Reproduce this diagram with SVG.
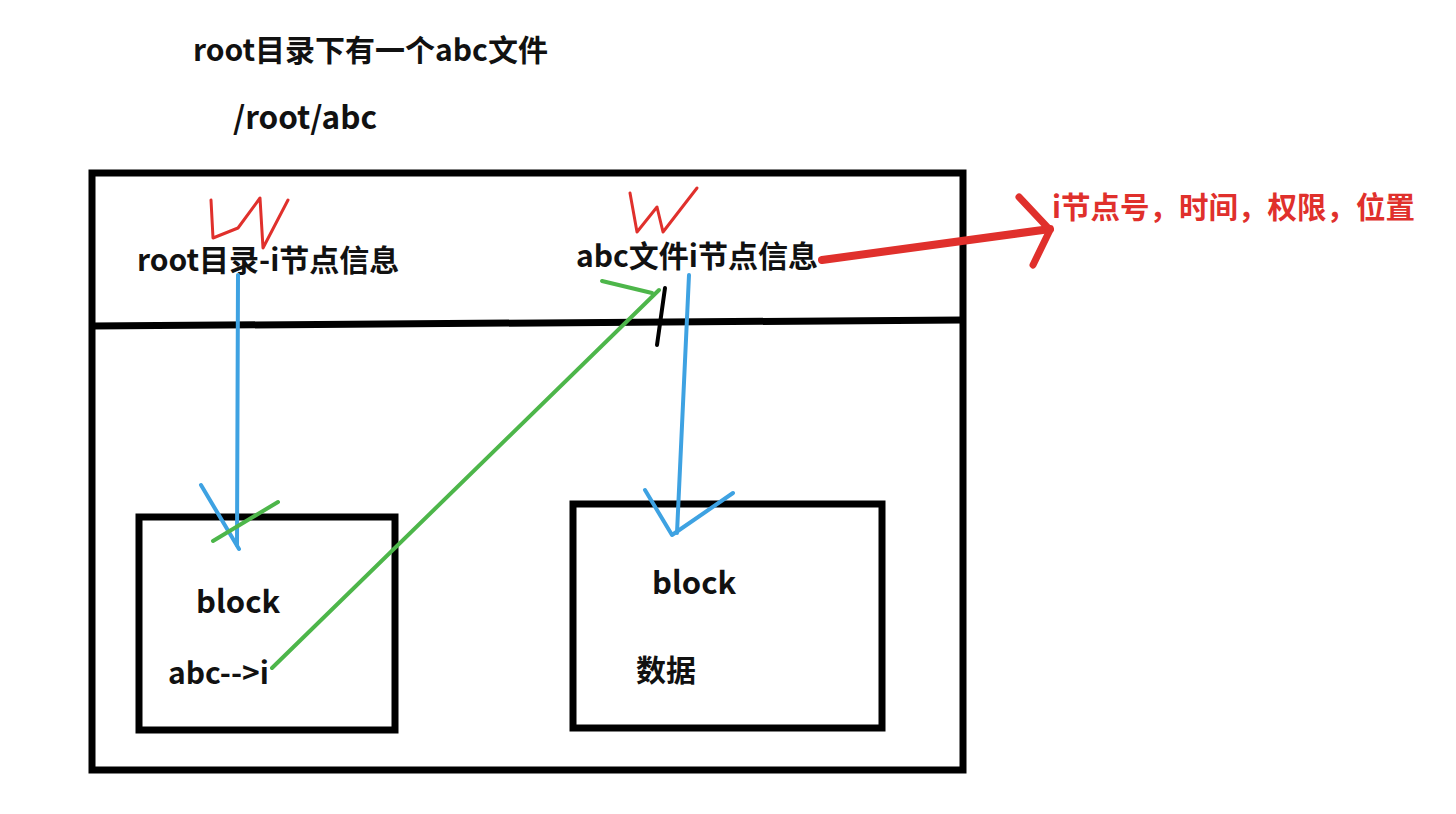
<svg xmlns="http://www.w3.org/2000/svg" width="1456" height="814" viewBox="0 0 1456 814">
<style>
.t{font-family:"Noto Sans CJK SC","Liberation Sans",sans-serif;font-weight:bold;font-size:30px;fill:#111}
.r{fill:#e0302c;font-size:29.5px}
.box{fill:none;stroke:#000;stroke-width:7}
.blue{fill:none;stroke:#3ea2e2;stroke-width:4;stroke-linecap:round;stroke-linejoin:round}
.green{fill:none;stroke:#4db64a;stroke-width:4;stroke-linecap:round}
.red{fill:none;stroke:#e0302c;stroke-width:3;stroke-linecap:round;stroke-linejoin:round}
</style>
<rect width="1456" height="814" fill="#fff"/>
<g id="title">
<text class="t" x="193" y="61">root目录下有一个abc文件</text>
<text class="t" x="233" y="129" style="font-size:31.5px">/root/abc</text>
</g>
<g id="disk">
<rect class="box" x="92" y="173" width="871" height="597"/>
<path d="M92 326 L963 320" stroke="#000" stroke-width="7" fill="none"/>
</g>
<g id="root-inode">
<path class="red" d="M211 200 L213 238 L238 228 L260 198 L263 248 L288 200"/>
<text class="t" x="137" y="271">root目录-i节点信息</text>
</g>
<g id="abc-inode">
<path class="red" d="M630 193 L637 232 L657 207 L663 232 L697 188"/>
<text class="t" x="576" y="267">abc文件i节点信息</text>
</g>
<g id="inode-info">
<text class="t r" x="1052" y="218">i节点号，时间，权限，位置</text>
</g>
<g id="block1">
<rect class="box" x="139" y="517" width="256" height="213"/>
<text class="t" x="196" y="613" style="font-size:31px">block</text>
<text class="t" x="168" y="684">abc--&gt;i</text>
</g>
<g id="block2">
<rect class="box" x="573" y="504" width="309" height="224"/>
<text class="t" x="652" y="594" style="font-size:31px">block</text>
<text class="t" x="636" y="681">数据</text>
</g>
<g id="connectors">
<path class="blue" d="M238 275 L237 545"/>
<path class="blue" d="M201 485 L239 549"/>
<path class="blue" d="M689 275 L677 533"/>
<path class="blue" d="M645 490 L672 535 L733 493"/>
<path class="green" d="M213 541 L278 502"/>
<path class="green" d="M272 668 L659 290"/>
<path class="green" d="M602 281 L652 293"/>
<path d="M665 288 L657 345" stroke="#000" stroke-width="4" fill="none" stroke-linecap="round"/>
<path d="M822 260 L1050 229" stroke="#e0302c" stroke-width="8" fill="none" stroke-linecap="round"/>
<path d="M1019 197 L1050 230 L1033 265" stroke="#e0302c" stroke-width="7" fill="none" stroke-linecap="round" stroke-linejoin="round"/>
</g>
</svg>
